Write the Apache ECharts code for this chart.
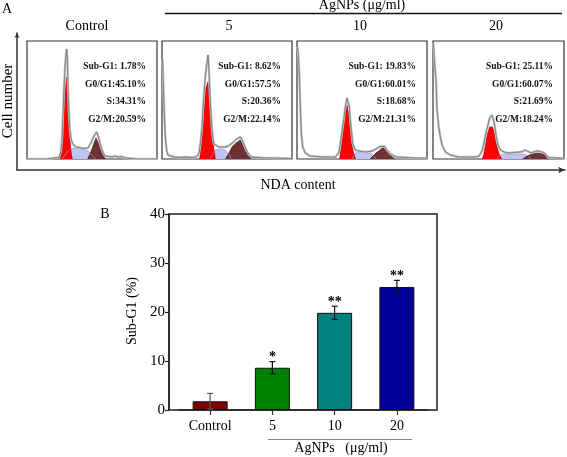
<!DOCTYPE html>
<html><head><meta charset="utf-8">
<script src="https://cdn.jsdelivr.net/npm/echarts/dist/echarts.min.js"></script>
<style>html,body{margin:0;padding:0;background:#fff}#c{width:567px;height:457px}</style>
</head><body><div id="c"></div>
<script>
// ---------- Panel A data (DNA channel, cell count) ----------
const histTitles = ['Control', '5', '10', '20'];
const histStats = [
  ['Sub-G1: 1.78%', 'G0/G1:45.10%', 'S:34.31%', 'G2/M:20.59%'],
  ['Sub-G1: 8.62%', 'G0/G1:57.5%', 'S:20.36%', 'G2/M:22.14%'],
  ['Sub-G1: 19.83%', 'G0/G1:60.01%', 'S:18.68%', 'G2/M:21.31%'],
  ['Sub-G1: 25.11%', 'G0/G1:60.07%', 'S:21.69%', 'G2/M:18.24%']
];
const ctrlOutline = [[0,0],[20,0],[28,1],[30,2],[32,1.5],[34,8],[35,20],[36,45],[37,70],[38,92],[39,104],[39.7,110],[40.5,95],[41,72],[42,45],[43,28],[44,20],[45.7,15],[47,13],[49,12],[52,11.5],[54,11],[57,10.5],[59,10],[61,11],[62,12],[64,16],[65.7,20],[67,23],[68,25],[69.7,27],[70.5,25],[71.7,21],[73,16],[74,12],[75,9],[76.3,6],[78,3],[79,2],[82,2.5],[85,2],[88,3],[91,2],[94,2.5],[97,1.5],[100,1],[105,0.5],[110,0],[130,0]];
const ctrlG1 = [[33,0],[35,12],[36.3,35],[37.5,58],[38.3,70],[39.7,82],[40.5,70],[41,55],[42,35],[42.7,22],[43.5,12],[44.3,5],[45.3,0]];
const ctrlS = [[35,0],[38,4],[41,8],[43,10],[46,11],[50,10.5],[54,10],[58,9],[61,8],[63,6],[65,4],[67,2],[69,0]];
const ctrlG2 = [[60.7,0],[63,5],[65.7,12],[67.5,17],[69,21],[70,20],[71.7,15],[73.5,10],[75,6],[77,2.5],[78.3,0]];

const d5Outline = [[0.5,100],[1,85],[2,55],[3,28],[4,14],[5,7],[6,4],[8,2.5],[12,2],[18,1.5],[24,2],[30,1.5],[35,2.5],[37,6],[38.3,15],[40,32],[41,50],[42,66],[43.3,82],[44.3,92],[45,96],[46,104],[46.8,92],[47.3,80],[48,62],[49,45],[50,30],[51,20],[52,15],[53.3,13],[56.7,12],[60,12],[63,12],[66.7,13],[69,15],[71.7,17],[74,19.5],[75.7,21],[78.3,22],[80,19.5],[81,17],[83,12],[84.3,9],[86,6],[87.7,3.5],[90,2],[92,1.5],[100,1.2],[110,1],[120,0.8],[130,0.5]];
const d5G1 = [[37.7,0],[39.5,15],[41,35],[42.5,55],[43.7,70],[46,77],[47,68],[48.3,55],[49.5,38],[50.7,20],[52,8],[53.3,0]];
const d5S = [[48,0],[50,4],[53,9],[56,10],[60,10],[63,9],[66,6],[68,3],[69,0]];
const d5G2 = [[63.3,0],[66,4],[70,12],[74,16],[78.3,19],[80,17],[82,12],[84.3,8],[86.5,4],[89,0]];

const d10Outline = [[0.5,112],[1.5,100],[2.3,86],[3.3,52],[4.3,26],[5.7,12],[8.3,6],[13,3],[20,2.5],[26,2],[33,2],[38.3,2],[40,3],[41.7,6],[43,13],[44.3,22],[45.5,31],[46.7,39],[48.3,52],[50,61],[51,63],[51.7,60],[52.3,53],[53,42],[54,32],[55,22],[55.7,16],[57,12],[58.3,9],[61.7,8],[65,7.5],[68.3,7],[72,7.5],[75,8],[78,9.5],[80,11],[83,12.5],[85,13],[87.7,12.5],[90,9],[91.7,7],[93,5.5],[95,4],[97,3],[100,2],[108,1.5],[118,1],[130,0.8]];
const d10G1 = [[42.7,0],[44,10],[45,20],[46.2,30],[47.3,40],[48.7,48],[50,54],[51,52],[51.7,45],[52.8,33],[54,22],[55.3,12],[56.7,5],[58.5,0]];
const d10S = [[55,0],[57,4],[60,6.5],[64,7],[68,6.5],[72,6.5],[75,5],[77,3],[79,0]];
const d10G2 = [[73.3,0],[76,3],[79,6],[81.7,8],[84,10],[86.7,11.7],[88,11],[90,8.5],[91.7,6],[94,3.5],[97.7,0]];

const d20Outline = [[0.3,116],[1,114],[1.7,95],[3,79],[4,49],[5.7,32],[7.3,22],[9,14],[12.3,7],[17.3,4],[25,2],[35,2],[42,2],[45.7,3],[47.5,5],[49,9],[50.3,15],[51.7,22],[53,28],[54,32],[55.3,37],[56.3,41],[57.3,43],[58.3,44],[59.5,41],[60.7,36],[62,28],[63,21],[64.3,15],[65.7,11],[67.5,8.5],[69,7],[72,6.5],[75.7,6],[80,6.5],[85.7,7],[89,7.5],[91,9],[92.3,11],[93.5,8],[95,6.5],[97.3,6],[100,7],[102.3,8],[104,8],[105.7,7.7],[108,7],[110.7,6],[112.5,4],[114,2],[117,1.2],[122,1],[130,0.8]];
const d20G1 = [[49,0],[50.5,5],[51.7,12],[53,19],[54,25],[55.3,29],[56.3,32],[59,32],[60.5,27],[62.3,18],[64,10],[65.7,5],[68,0]];
const d20S = [[63,0],[66,3],[69,5],[75,5],[82,5],[88,5],[92,4.5],[95,3],[97,0]];
const d20G2 = [[89,0],[92,2],[95.7,4],[99,5],[102,5.8],[104,6],[107,5.5],[110,4.5],[113,3],[115.5,1.5],[117.3,0]];

// ---------- Panel B data ----------
const barCats = ['Control', '5', '10', '20'];
const barMeans = [1.78, 8.62, 19.83, 25.11];
const barErrs = [1.6, 1.25, 1.35, 1.35];
const barStars = ['', '*', '**', '**'];
const barTicks = [0, 10, 20, 30, 40];

// ---------- layout / styles ----------
const FONT = '"Liberation Serif", "Times New Roman", serif';
const boxes = [
  {left: 27, width: 130}, {left: 162, width: 130},
  {left: 297, width: 130}, {left: 433, width: 131}
];
const boxTop = 41, boxH = 118;
const titleX = [87, 229, 360, 496];
const hists = [
  [ctrlOutline, ctrlG1, ctrlS, ctrlG2],
  [d5Outline, d5G1, d5S, d5G2],
  [d10Outline, d10G1, d10S, d10G2],
  [d20Outline, d20G1, d20S, d20G2]
];
const barColors = ['#800000', '#008000', '#008080', '#000099'];

const grids = [], xAxes = [], yAxes = [], series = [], graphics = [];

boxes.forEach((b, i) => {
  grids.push({left: b.left, top: boxTop, width: b.width, height: boxH, show: true,
    borderColor: '#333', borderWidth: 1.2, backgroundColor: 'transparent'});
  xAxes.push({gridIndex: i, type: 'value', min: 0, max: 130, show: false});
  yAxes.push({gridIndex: i, type: 'value', min: 0, max: 118, show: false});
  const [outline, g1, s, g2] = hists[i];
  const area = (data, fill, stroke) => ({
    type: 'line', xAxisIndex: i, yAxisIndex: i, data, symbol: 'none', silent: true,
    lineStyle: {color: stroke, width: 0.7}, areaStyle: {color: fill, opacity: 1}
  });
  series.push(area(s, '#bfc4f2', '#8f97dc'));
  series.push(area(g1, '#ff0000', '#a00000'));
  series.push(area(g2, '#6e3232', '#3d1a1a'));
  series.push({type: 'line', xAxisIndex: i, yAxisIndex: i, data: outline, symbol: 'none', silent: true,
    lineStyle: {color: '#c4c4c4', width: 2.4}});
  series.push({type: 'line', xAxisIndex: i, yAxisIndex: i, data: outline, symbol: 'none', silent: true,
    lineStyle: {color: '#7a7a7a', width: 0.9}});
  graphics.push({type: 'text', x: titleX[i], y: 26,
    style: {text: histTitles[i], font: '14px ' + FONT, align: 'center', verticalAlign: 'middle', fill: '#000'}});
  histStats[i].forEach((t, k) => {
    graphics.push({type: 'text', x: b.left + b.width - 11, y: [67, 84.5, 102, 119.5][k],
      style: {text: t, font: 'bold 9.5px ' + FONT, align: 'right', verticalAlign: 'middle', fill: '#111'}});
  });
});

// outer axes of panel A (grid 4)
grids.push({left: 17, top: 33, width: 548, height: 137});
xAxes.push({gridIndex: 4, type: 'value', min: 0, max: 1, axisLabel: {show: false}, axisTick: {show: false},
  splitLine: {show: false}, axisLine: {show: true, symbol: ['none', 'arrow'], symbolSize: [5, 7],
  lineStyle: {color: '#333', width: 1.5}}});
yAxes.push({gridIndex: 4, type: 'value', min: 0, max: 1, axisLabel: {show: false}, axisTick: {show: false},
  splitLine: {show: false}, axisLine: {show: true, symbol: ['none', 'arrow'], symbolSize: [4, 5],
  lineStyle: {color: '#333', width: 1.5}}});

// panel B frame (grid 5)
grids.push({left: 169, top: 214, width: 268, height: 196, show: true, borderColor: '#222', borderWidth: 1.5});
xAxes.push({gridIndex: 5, type: 'value', min: 0, max: 1, show: false});
yAxes.push({gridIndex: 5, type: 'value', min: barTicks[0], max: barTicks[barTicks.length - 1], interval: 10,
  axisLine: {show: true, lineStyle: {color: '#222', width: 1.5}},
  axisTick: {show: true, inside: false, length: 4, lineStyle: {color: '#222', width: 1.2}},
  axisLabel: {color: '#000', fontFamily: FONT, fontSize: 15, margin: 4},
  splitLine: {show: false}});

// panel B bars (grid 6)
grids.push({left: 179, top: 214, width: 249, height: 196});
xAxes.push({gridIndex: 6, type: 'category', data: barCats,
  axisLine: {show: true, lineStyle: {color: '#222', width: 1.5}},
  axisTick: {show: true, alignWithLabel: true, length: 5, lineStyle: {color: '#333', width: 1.2}},
  axisLabel: {color: '#000', fontFamily: FONT, fontSize: 14, margin: 9}});
yAxes.push({gridIndex: 6, type: 'value', min: 0, max: 40, show: false});

series.push({type: 'bar', xAxisIndex: 6, yAxisIndex: 6, barWidth: 35, silent: true,
  data: barMeans.map((v, i) => ({value: v, itemStyle: {color: barColors[i], borderColor: '#111', borderWidth: 1}}))});

series.push({type: 'custom', xAxisIndex: 6, yAxisIndex: 6, silent: true, z: 10,
  data: barMeans.map((v, i) => [i, v, barErrs[i], barStars[i]]),
  renderItem: (params, api) => {
    const i = api.value(0), m = api.value(1), e = api.value(2);
    const top = api.coord([i, m + e]), bot = api.coord([i, m - e]);
    const cw = 3;
    const col = i === 0 ? '#555' : '#111';
    const children = [
      {type: 'line', shape: {x1: top[0], y1: top[1], x2: bot[0], y2: bot[1]}, style: {stroke: col, lineWidth: 1.2}},
      {type: 'line', shape: {x1: top[0] - cw, y1: top[1], x2: top[0] + cw, y2: top[1]}, style: {stroke: col, lineWidth: 1.2}},
      {type: 'line', shape: {x1: bot[0] - cw, y1: bot[1], x2: bot[0] + cw, y2: bot[1]}, style: {stroke: col, lineWidth: 1.2}}
    ];
    const star = barStars[i];
    if (star) children.push({type: 'text', x: top[0], y: top[1] - 4,
      style: {text: star, font: 'bold 14px ' + FONT, align: 'center', verticalAlign: 'middle', fill: '#000'}});
    return {type: 'group', children};
  }});

// labels & decorations
graphics.push(
  {type: 'text', x: 7, y: 9, style: {text: 'A', font: '14px ' + FONT, align: 'center', verticalAlign: 'middle', fill: '#000'}},
  {type: 'text', x: 105, y: 214, style: {text: 'B', font: '14px ' + FONT, align: 'center', verticalAlign: 'middle', fill: '#000'}},
  {type: 'text', x: 362, y: 5, style: {text: 'AgNPs (μg/ml)', font: '14px ' + FONT, align: 'center', verticalAlign: 'middle', fill: '#000'}},
  {type: 'line', shape: {x1: 165, y1: 13.5, x2: 562, y2: 13.5}, style: {stroke: '#111', lineWidth: 1.3}},
  {type: 'text', x: 8, y: 101, rotation: Math.PI / 2, style: {text: 'Cell number', font: '15px ' + FONT, align: 'center', verticalAlign: 'middle', fill: '#000'}},
  {type: 'text', x: 298, y: 185, style: {text: 'NDA content', font: '14px ' + FONT, align: 'center', verticalAlign: 'middle', fill: '#000'}},
  {type: 'text', x: 132, y: 311, rotation: Math.PI / 2, style: {text: 'Sub-G1 (%)', font: '14px ' + FONT, align: 'center', verticalAlign: 'middle', fill: '#000'}},
  {type: 'line', shape: {x1: 268, y1: 439.5, x2: 412, y2: 439.5}, style: {stroke: '#888', lineWidth: 1}},
  {type: 'text', x: 341, y: 448.5, style: {text: 'AgNPs   (μg/ml)', font: '14px ' + FONT, align: 'center', verticalAlign: 'middle', fill: '#000'}}
);

const chart = echarts.init(document.getElementById('c'), null, {renderer: 'canvas'});
chart.setOption({
  animation: false,
  backgroundColor: '#fff',
  grid: grids, xAxis: xAxes, yAxis: yAxes, series, graphic: graphics
});
</script></body></html>
